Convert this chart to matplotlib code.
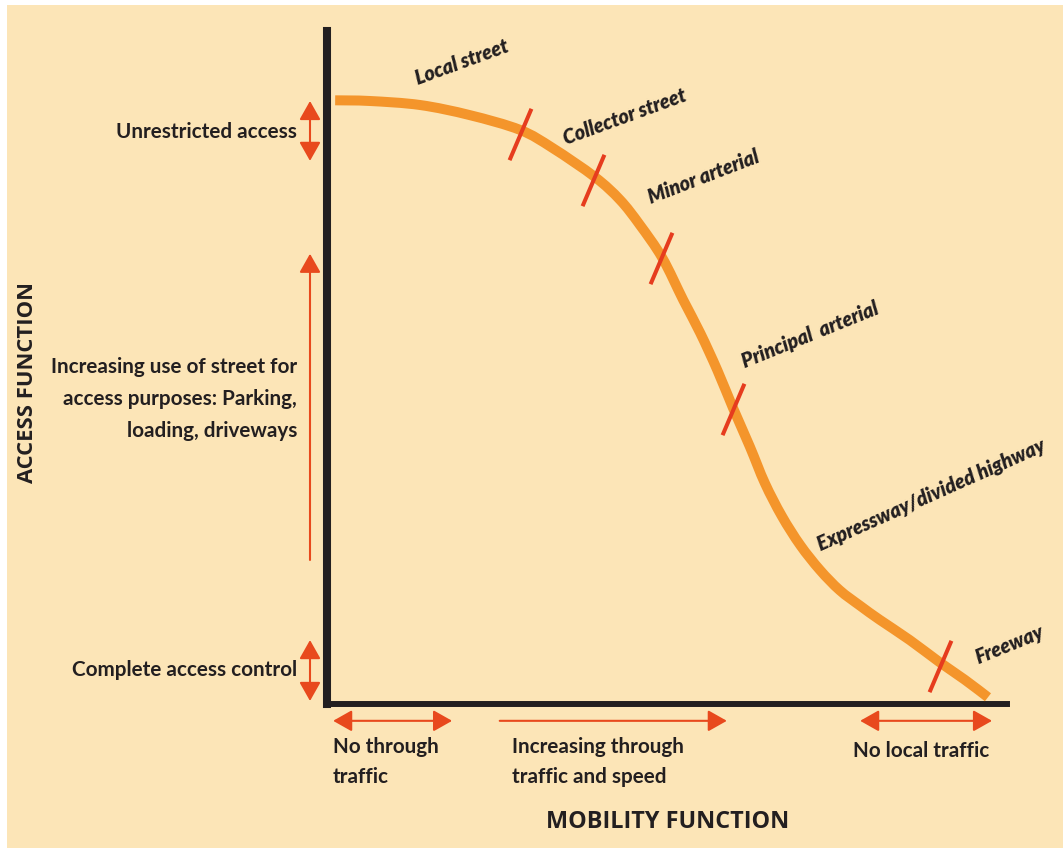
import numpy as np
import matplotlib.pyplot as plt
from matplotlib.path import Path
from matplotlib.patches import Rectangle, PathPatch

# access (y) vs mobility (x) curve, both on a 0-100 scale
mobility = [1.2, 6.3, 13.7, 21.0, 28.4, 33.2, 39.4, 43.1, 46.0, 49.3, 52.4, 54.9, 57.4,
            59.7, 62.2, 64.4, 66.9, 69.6, 72.5, 75.4, 78.4, 81.3, 85.7, 90.1, 93.8, 97.2]
access = [89.7, 89.6, 89.0, 87.5, 85.3, 82.6, 78.3, 74.9, 71.2, 66.3, 60.0, 55.1, 49.6,
          44.0, 38.2, 32.8, 27.9, 23.6, 19.9, 16.9, 14.6, 12.5, 9.5, 6.2, 3.6, 1.0]

# boundaries between functional classes on the curve
bound_x = [28.4, 39.1, 49.1, 59.7, 90.1]
bound_y = [84.7, 77.9, 66.3, 43.8, 5.6]

class_names = ['Local street', 'Collector street', 'Minor arterial',
               'Principal  arterial', 'Expressway/divided highway', 'Freeway']
class_x = [19.9, 43.8, 55.4, 71.0, 88.8, 100.3]
class_y = [95.4, 87.2, 78.3, 54.8, 31.1, 8.8]
class_rot = [20, 20, 21, 22, 24, 22]
class_w = [92, 125, 115, 152, 243, 65]   # px along baseline

left_lines = ['Unrestricted access', 'Increasing use of street for',
              'access purposes: Parking,', 'loading, driveways', 'Complete access control']
left_y = [84.1, 49.2, 44.4, 39.7, 4.2]
left_w = [174, 242, 227, 168, 217]

bottom_lines = ['No through', 'traffic', 'Increasing through', 'traffic and speed',
                'No local traffic']
bottom_x = [0.9, 0.9, 27.2, 27.2, 77.4]
bottom_y = [-7.3, -11.7, -7.3, -11.7, -7.9]
bottom_w = [107, 65, 173, 151, 132]

font = ['Lato', 'Liberation Sans']

ink = '#231f20'
bg = '#fce5b7'
orange = '#f4952b'
red = '#e63c1e'
arrow_c = '#e8491d'

fig = plt.figure(figsize=(10.63, 8.48), dpi=100)
fig.patch.set_facecolor('white')
fig.patches.append(Rectangle((7/1063, 0), 1, 1 - 5/848, transform=fig.transFigure,
                             facecolor=bg, edgecolor='none', zorder=-10))

ax = fig.add_axes([327/1063, (848-704)/848, 680/1063, 673/848])
ax.set_facecolor('none')
ax.set_xlim(0, 100)
ax.set_ylim(0, 100)
ax.set_xticks([])
ax.set_yticks([])
ax.spines['top'].set_visible(False)
ax.spines['right'].set_visible(False)
ax.spines['left'].set_linewidth(5.8)
ax.spines['bottom'].set_linewidth(4.3)
ax.spines['left'].set_color(ink)
ax.spines['bottom'].set_color(ink)

# smooth curve through the points (Catmull-Rom as cubic Beziers)
pts = np.column_stack([mobility, access])
ext = np.vstack([pts[0], pts, pts[-1]])
verts = [pts[0]]
codes = [Path.MOVETO]
for i in range(1, len(ext) - 2):
    p0, p1, p2, p3 = ext[i-1], ext[i], ext[i+1], ext[i+2]
    verts += [p1 + (p2 - p0) / 6, p2 - (p3 - p1) / 6, p2]
    codes += [Path.CURVE4] * 3
ax.add_patch(PathPatch(Path(verts, codes), fill=False, edgecolor=orange, lw=7.2,
                       capstyle='butt', joinstyle='round', zorder=3))

tick_path = Path([(-0.4255, -1), (0.4255, 1)], [Path.MOVETO, Path.LINETO])
ax.plot(bound_x, bound_y, ls='none', marker=tick_path, markersize=37,
        markeredgewidth=2.9, markeredgecolor=red, zorder=4)

cls_texts = [ax.text(x, y, name, rotation=r, rotation_mode='anchor', ha='center',
                     va='center', fontsize=15, fontweight=800, fontstyle='italic',
                     family=font, color=ink, clip_on=False)
             for name, x, y, r in zip(class_names, class_x, class_y, class_rot)]

lab_texts = [ax.text(-4.4, y, lab, ha='right', va='baseline', fontsize=15,
                     fontweight='bold', family=font, color=ink)
             for lab, y in zip(left_lines, left_y)]
lab_texts += [ax.text(x, y, lab, ha='left', va='baseline', fontsize=15,
                      fontweight='bold', family=font, color=ink)
              for lab, x, y in zip(bottom_lines, bottom_x, bottom_y)]

t1 = ax.text(-44.0, 47.7, 'ACCESS FUNCTION', rotation=90, ha='center', va='center',
             fontsize=15, fontweight='bold', color=ink, family='Open Sans')
t2 = ax.text(50.1, -17.5, 'MOBILITY FUNCTION', ha='center', va='center',
             fontsize=15, fontweight='bold', color=ink, family='Open Sans')

# arrows: (start, end, style)
arrows = [((-2.5, 80.7), (-2.5, 89.6), '<|-|>'),
          ((-2.5, 21.4), (-2.5, 66.9), '-|>'),
          ((-2.5, 0.45), (-2.5, 9.5), '<|-|>'),
          ((0.9, -2.5), (18.4, -2.5), '<|-|>'),
          ((25.4, -2.5), (58.8, -2.5), '-|>'),
          ((78.4, -2.5), (97.8, -2.5), '<|-|>')]
for a, b, st in arrows:
    ax.annotate('', xy=b, xytext=a, annotation_clip=False,
                arrowprops=dict(arrowstyle=st + ',head_length=1.15,head_width=0.65',
                                mutation_scale=10, color=arrow_c, lw=1.5,
                                shrinkA=0, shrinkB=0))

# one font size per group, scaled so text widths roughly match the reference
renderer = fig.canvas.get_renderer()
groups = [(cls_texts, class_w, 1.04), (lab_texts, left_w + bottom_w, 1.0),
          ([t1], [201], 1.0), ([t2], [243], 1.0)]
for texts, widths, extra in groups:
    ratios = []
    for t, w in zip(texts, widths):
        rot = t.get_rotation()
        t.set_rotation(0)
        ratios.append(w / t.get_window_extent(renderer).width)
        t.set_rotation(rot)
    s = np.mean(ratios) * extra
    for t in texts:
        t.set_fontsize(t.get_fontsize() * s)

fig.savefig('out.png', dpi=100)
